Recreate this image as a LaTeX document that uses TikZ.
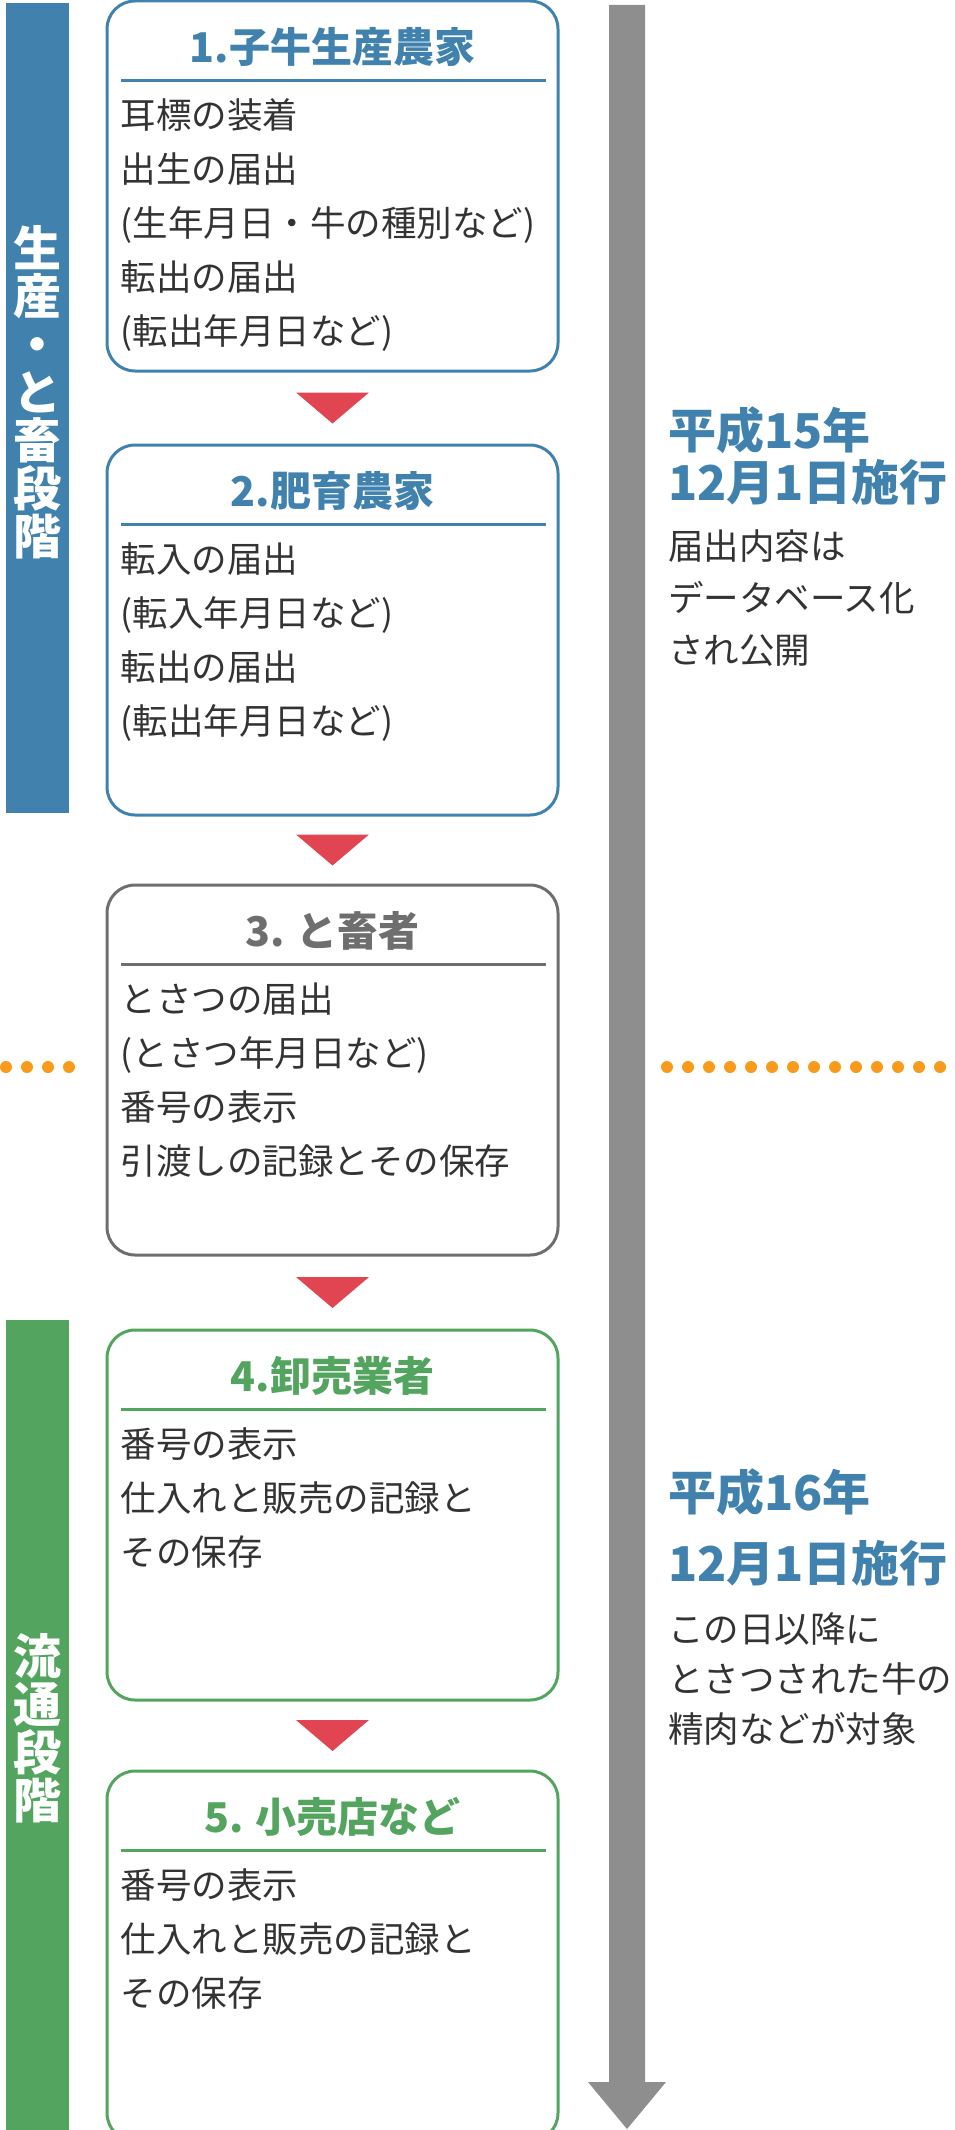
\documentclass[tikz,border=0pt]{standalone}
\usepackage{fontspec}
\setmainfont{Noto Sans CJK JP}
\usetikzlibrary{positioning,calc}
\definecolor{stageblue}{HTML}{4082AD}
\definecolor{stagegreen}{HTML}{52A45E}
\definecolor{stagegray}{HTML}{6E6E6E}
\definecolor{markred}{HTML}{E14552}
\definecolor{timegray}{HTML}{8E8E8E}
\definecolor{dotorange}{HTML}{F89B1C}
\definecolor{ink}{HTML}{333333}
\def\tri{++(-36.5,-15.5) -- ++(73,0) -- ++(-36.5,31) -- cycle}
\def\rmark{\fill[markred]}
\tikzset{
  stagebox/.style={draw=#1, line width=3pt, rounded corners=28pt,
    minimum width=451pt, minimum height=370pt, inner sep=0pt},
  stagetitle/.style={text=#1, inner sep=0pt,
    font=\fontsize{41}{41}\selectfont\bfseries},
  stagerule/.style={draw=#1, line width=3pt},
  stagebody/.style={text=ink, inner sep=0pt, anchor=north west, align=left,
    font=\fontsize{35.5}{54}\selectfont},
  sidebar/.style={fill=#1, minimum width=63pt, inner sep=0pt},
  sidetext/.style={text=white, inner sep=0pt, align=center,
    font=\fontsize{48}{48}\selectfont\bfseries},
  datehead/.style={text=stageblue, inner sep=0pt, anchor=west,
    font=\fontsize{48}{48}\selectfont\bfseries},
  datebody/.style={text=ink, inner sep=0pt, anchor=north west, align=left,
    font=\fontsize{35.5}{#1}\selectfont},
  datebody/.default=52
}

\begin{document}
\begin{tikzpicture}[x=1pt,y=-1pt]
\useasboundingbox (0,0) rectangle (954,2130);
% stage bars on the left
\node[sidebar=stageblue, minimum height=810pt] (prodbar) at (37.5,408) {};
\node[sidetext] (prodlabel) at (37.5,392) {生\\産\\・\\と\\畜\\段\\階};
\node[sidebar=stagegreen, minimum height=810pt] (distbar) at (37.5,1725) {};
\node[sidetext] (distlabel) at (37.5,1728) {流\\通\\段\\階};

% the five boxes
\node[stagebox=stageblue] (calf) at (332.5,186) {};
\node[stagebox=stageblue, below=71pt of calf] (fatten) {};
\node[stagebox=stagegray, below=67pt of fatten] (slaughter) {};
\node[stagebox=stagegreen, below=72pt of slaughter] (wholesale) {};
\node[stagebox=stagegreen, below=68pt of wholesale] (retail) {};

\node[stagetitle=stageblue] (calft) at ($(calf.north)+(0,47)$) {1.子牛生産農家};
\draw[stagerule=stageblue] ($(calf.north west)+(15,81)$) -- ($(calf.north east)+(-14,81)$);
\node[stagebody] (calfb) at ($(calf.north west)+(15,99)$)
  {耳標の装着\\出生の届出\\(生年月日・牛の種別など)\\転出の届出\\(転出年月日など)};

\node[stagetitle=stageblue] (fattent) at ($(fatten.north)+(0,47)$) {2.肥育農家};
\draw[stagerule=stageblue] ($(fatten.north west)+(15,81)$) -- ($(fatten.north east)+(-14,81)$);
\node[stagebody] (fattenb) at ($(fatten.north west)+(15,99)$)
  {転入の届出\\(転入年月日など)\\転出の届出\\(転出年月日など)};

\node[stagetitle=stagegray] (slaughtert) at ($(slaughter.north)+(0,47)$) {3. と畜者};
\draw[stagerule=stagegray] ($(slaughter.north west)+(15,81)$) -- ($(slaughter.north east)+(-14,81)$);
\node[stagebody] (slaughterb) at ($(slaughter.north west)+(15,99)$)
  {とさつの届出\\(とさつ年月日など)\\番号の表示\\引渡しの記録とその保存};

\node[stagetitle=stagegreen] (wholesalet) at ($(wholesale.north)+(0,47)$) {4.卸売業者};
\draw[stagerule=stagegreen] ($(wholesale.north west)+(15,81)$) -- ($(wholesale.north east)+(-14,81)$);
\node[stagebody] (wholesaleb) at ($(wholesale.north west)+(15,99)$)
  {番号の表示\\仕入れと販売の記録と\\その保存};

\node[stagetitle=stagegreen] (retailt) at ($(retail.north)+(0,47)$) {5. 小売店など};
\draw[stagerule=stagegreen] ($(retail.north west)+(15,81)$) -- ($(retail.north east)+(-14,81)$);
\node[stagebody] (retailb) at ($(retail.north west)+(15,99)$)
  {番号の表示\\仕入れと販売の記録と\\その保存};

% red marks between the boxes
\rmark ($(calf.south)!.5!(fatten.north)$) \tri;
\rmark ($(fatten.south)!.5!(slaughter.north)$) \tri;
\rmark ($(slaughter.south)!.5!(wholesale.north)$) \tri;
\rmark ($(wholesale.south)!.5!(retail.north)$) \tri;

% time arrow
\fill[timegray] (609,5) -- (645,5) -- (645,2082) -- (666,2082) -- (627,2129)
  -- (588,2082) -- (609,2082) -- cycle;

% dotted divider
\foreach \i in {0,...,3} \fill[dotorange] (6+21*\i,1067) circle (6pt);
\foreach \i in {0,...,13} \fill[dotorange] (667+21*\i,1067) circle (6pt);

% dates
\node[datehead] (h15a) at (668,430) {平成15年};
\node[datehead] (h15b) at (668,482) {12月1日施行};
\node[datebody] (h15c) at (668,529) {届出内容は\\データベース化\\され公開};
\node[datehead] (h16a) at (668,1492) {平成16年};
\node[datehead] (h16b) at (668,1563) {12月1日施行};
\node[datebody=50] (h16c) at (668,1612) {この日以降に\\とさつされた牛の\\精肉などが対象};
\end{tikzpicture}
\end{document}
